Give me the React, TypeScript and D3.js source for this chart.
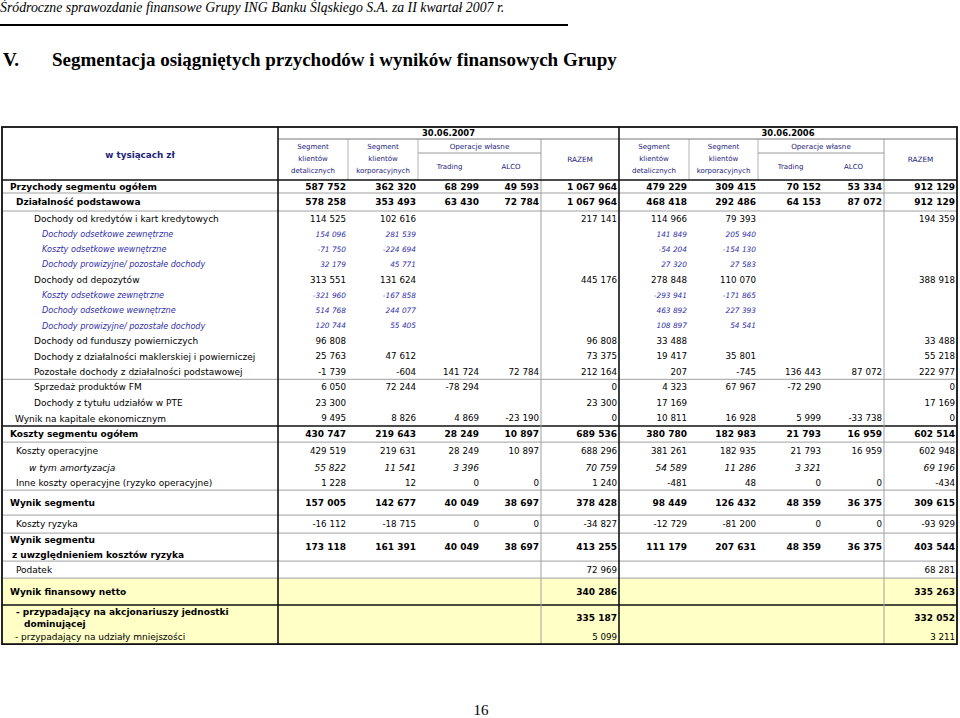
import React from "react";
import * as d3 from "d3";

// page texts
const pageTitle =
  "Śródroczne sprawozdanie finansowe Grupy ING Banku Śląskiego S.A. za II kwartał 2007 r.";
const sectionNo = "V.";
const sectionTitle = "Segmentacja osiągniętych przychodów i wyników finansowych Grupy";
const pageNumber = "16";

// header texts
const unitLabel = "w tysiącach zł";
const periods = ["30.06.2007", "30.06.2006"];
const segmentHeads = [
  ["Segment", "klientów", "detalicznych"],
  ["Segment", "klientów", "korporacyjnych"],
];
const ownOpsHead = "Operacje własne";
const ownOpsCols = ["Trading", "ALCO"];
const totalHead = "RAZEM";

// row labels (\n = second line)
const rowLabels = [
  "Przychody segmentu ogółem",
  "Działalność podstawowa",
  "Dochody od kredytów i kart kredytowych",
  "Dochody odsetkowe zewnętrzne",
  "Koszty odsetkowe wewnętrzne",
  "Dochody prowizyjne/ pozostałe dochody",
  "Dochody od depozytów",
  "Koszty odsetkowe zewnętrzne",
  "Dochody odsetkowe wewnętrzne",
  "Dochody prowizyjne/ pozostałe dochody",
  "Dochody od funduszy powierniczych",
  "Dochody z działalności maklerskiej i powierniczej",
  "Pozostałe dochody z działalności podstawowej",
  "Sprzedaż produktów FM",
  "Dochody z tytułu udziałów w PTE",
  "Wynik na kapitale ekonomicznym",
  "Koszty segmentu ogółem",
  "Koszty operacyjne",
  "w tym amortyzacja",
  "Inne koszty operacyjne (ryzyko operacyjne)",
  "Wynik segmentu",
  "Koszty ryzyka",
  "Wynik segmentu\nz uwzględnieniem kosztów ryzyka",
  "Podatek",
  "Wynik finansowy netto",
  "- przypadający na akcjonariuszy jednostki\ndominującej",
  "- przypadający na udziały mniejszości",
];

// detal, korp, trading, alco, razem
const values2007: (number | null)[][] = [
  [587752, 362320, 68299, 49593, 1067964],
  [578258, 353493, 63430, 72784, 1067964],
  [114525, 102616, null, null, 217141],
  [154096, 281539, null, null, null],
  [-71750, -224694, null, null, null],
  [32179, 45771, null, null, null],
  [313551, 131624, null, null, 445176],
  [-321960, -167858, null, null, null],
  [514768, 244077, null, null, null],
  [120744, 55405, null, null, null],
  [96808, null, null, null, 96808],
  [25763, 47612, null, null, 73375],
  [-1739, -604, 141724, 72784, 212164],
  [6050, 72244, -78294, null, 0],
  [23300, null, null, null, 23300],
  [9495, 8826, 4869, -23190, 0],
  [430747, 219643, 28249, 10897, 689536],
  [429519, 219631, 28249, 10897, 688296],
  [55822, 11541, 3396, null, 70759],
  [1228, 12, 0, 0, 1240],
  [157005, 142677, 40049, 38697, 378428],
  [-16112, -18715, 0, 0, -34827],
  [173118, 161391, 40049, 38697, 413255],
  [null, null, null, null, 72969],
  [null, null, null, null, 340286],
  [null, null, null, null, 335187],
  [null, null, null, null, 5099],
];

const values2006: (number | null)[][] = [
  [479229, 309415, 70152, 53334, 912129],
  [468418, 292486, 64153, 87072, 912129],
  [114966, 79393, null, null, 194359],
  [141849, 205940, null, null, null],
  [-54204, -154130, null, null, null],
  [27320, 27583, null, null, null],
  [278848, 110070, null, null, 388918],
  [-293941, -171865, null, null, null],
  [463892, 227393, null, null, null],
  [108897, 54541, null, null, null],
  [33488, null, null, null, 33488],
  [19417, 35801, null, null, 55218],
  [207, -745, 136443, 87072, 222977],
  [4323, 67967, -72290, null, 0],
  [17169, null, null, null, 17169],
  [10811, 16928, 5999, -33738, 0],
  [380780, 182983, 21793, 16959, 602514],
  [381261, 182935, 21793, 16959, 602948],
  [54589, 11286, 3321, null, 69196],
  [-481, 48, 0, 0, -434],
  [98449, 126432, 48359, 36375, 309615],
  [-12729, -81200, 0, 0, -93929],
  [111179, 207631, 48359, 36375, 403544],
  [null, null, null, null, 68281],
  [null, null, null, null, 335263],
  [null, null, null, null, 332052],
  [null, null, null, null, 3211],
];

// ---- layout / styles ----
type Kind = "bold" | "plain" | "sub" | "italic";
const rowKinds: Kind[] = [
  "bold", "bold", "plain", "sub", "sub", "sub", "plain", "sub", "sub", "sub",
  "plain", "plain", "plain", "plain", "plain", "plain", "bold", "plain", "italic", "plain",
  "bold", "plain", "bold", "plain", "bold", "bold", "plain",
];
const rowIndent: number[][] = [
  [8], [14], [32], [40], [40], [40], [32], [40], [40], [40],
  [32], [32], [32], [32], [32], [13], [8], [14], [27], [14],
  [8], [14], [8, 10], [14], [8], [14, 22], [13],
];
const rowHeights = [
  13, 18,
  15.3, 15.3, 15.3, 15.3, 15.3, 15.3, 15.3, 15.3, 15.3, 15.3, 15.3,
  15.6, 15.6, 15.6,
  16, 18, 15, 15,
  25, 18, 28, 17, 27, 25, 14,
];
// border drawn below each row: 0 none, 1 grey, 2 black
const rowRule = [1, 1, 0, 0, 0, 0, 0, 0, 0, 0, 0, 0, 1, 0, 0, 2, 1, 0, 0, 1, 1, 1, 1, 1, 2, 0, 0];
const yellowFrom = 24;

const colWidths = [276, 70, 70, 63, 60, 78, 70, 69, 65, 61, 73];
const tableLeft = 2;
const tableTop = 127;
const headHeights = [12, 14, 27];

const FONT = "'DejaVu Sans', Verdana, sans-serif";
const SERIF = "'Liberation Serif', 'Times New Roman', serif";
const NAVY = "#23237a";
const BLUE = "#2f2fa8";
const GREY = "#a0a0a0";
const YELLOW = "#ffffc6";

const fmt = d3
  .formatLocale({ decimal: ",", thousands: " ", grouping: [3], currency: ["", ""], minus: "-" })
  .format(",d");

export default function App() {
  const W = 960;
  const H = 718;

  const colEdges = [tableLeft, ...Array.from(d3.cumsum(colWidths), (d) => tableLeft + d)];
  const right = colEdges[colEdges.length - 1];
  const headEdges = [tableTop, ...Array.from(d3.cumsum(headHeights), (d) => tableTop + d)];
  const bodyTop = headEdges[headEdges.length - 1];
  const rowEdges = [bodyTop, ...Array.from(d3.cumsum(rowHeights), (d) => bodyTop + d)];
  const bottom = rowEdges[rowEdges.length - 1];

  const colRight = d3.scaleOrdinal<number, number>().domain(d3.range(11)).range(colEdges.slice(1));
  const colLeft = d3.scaleOrdinal<number, number>().domain(d3.range(11)).range(colEdges.slice(0, 11));
  const rowTop = d3.scaleOrdinal<number, number>().domain(d3.range(rowLabels.length)).range(rowEdges.slice(0, -1));
  const rowBottom = d3.scaleOrdinal<number, number>().domain(d3.range(rowLabels.length)).range(rowEdges.slice(1));

  const styleFor = (k: Kind) => {
    if (k === "bold") return { size: 9, numSize: 9, weight: 700, italic: false, fill: "#000" };
    if (k === "sub") return { size: 8.1, numSize: 7.4, weight: 400, italic: true, fill: BLUE };
    if (k === "italic") return { size: 9, numSize: 9, weight: 400, italic: true, fill: "#000" };
    return { size: 9, numSize: 8.7, weight: 400, italic: false, fill: "#000" };
  };

  const hMid = (i: number) => (headEdges[i] + headEdges[i + 1]) / 2;

  const header = periods.map((p, pi) => {
    const c0 = 1 + pi * 5;
    const blockMid = (colLeft(c0) + colRight(c0 + 4)) / 2;
    const opsMid = (colLeft(c0 + 2) + colRight(c0 + 3)) / 2;
    return (
      <g key={p}>
        <text x={blockMid} y={hMid(0) + 3} textAnchor="middle" fontWeight={700} fontSize={8.4} fill="#000">
          {p}
        </text>
        {segmentHeads.map((lines, si) => {
          const cx = (colLeft(c0 + si) + colRight(c0 + si)) / 2;
          return lines.map((t, li) => (
            <text key={si + "-" + li} x={cx} y={headEdges[1] + 9.5 + li * 12} textAnchor="middle" fontSize={7} fill={NAVY}>
              {t}
            </text>
          ));
        })}
        <text x={opsMid} y={hMid(1) + 2.5} textAnchor="middle" fontSize={7.2} fill={NAVY}>
          {ownOpsHead}
        </text>
        {ownOpsCols.map((t, oi) => (
          <text key={t} x={(colLeft(c0 + 2 + oi) + colRight(c0 + 2 + oi)) / 2} y={hMid(2) + 2.5} textAnchor="middle" fontSize={7} fill={NAVY}>
            {t}
          </text>
        ))}
        <text x={(colLeft(c0 + 4) + colRight(c0 + 4)) / 2} y={(headEdges[1] + headEdges[3]) / 2 + 2.5} textAnchor="middle" fontSize={7.3} fill={NAVY}>
          {totalHead}
        </text>
        {/* header grid */}
        {[c0 + 1, c0 + 2, c0 + 4].map((c) => (
          <line key={c} x1={colLeft(c)} x2={colLeft(c)} y1={headEdges[1]} y2={bodyTop} stroke={c === c0 + 4 ? GREY : "#b5b5b5"} />
        ))}
        <line x1={colLeft(c0 + 2)} x2={colRight(c0 + 3)} y1={headEdges[2]} y2={headEdges[2]} stroke="#9a9a9a" />
      </g>
    );
  });

  const body = rowLabels.map((label, ri) => {
    const st = styleFor(rowKinds[ri]);
    const top = rowTop(ri);
    const bot = rowBottom(ri);
    const mid = (top + bot) / 2;
    const lines = label.split("\n");
    const vals = [...values2007[ri], ...values2006[ri]];
    const lineGap = lines.length > 1 ? (ri === 22 ? 15 : 12) : 0;
    return (
      <g key={ri} fontFamily={FONT} fill={st.fill} fontWeight={st.weight} fontStyle={st.italic ? "italic" : "normal"}>
        {lines.map((t, li) => (
          <text
            key={li}
            x={tableLeft + rowIndent[ri][li]}
            y={mid + st.size * 0.36 + (li - (lines.length - 1) / 2) * lineGap}
            fontSize={st.size}
            style={{ whiteSpace: "pre" }}
          >
            {t}
          </text>
        ))}
        {vals.map((v, ci) =>
          v === null ? null : (
            <text key={"v" + ci} x={colRight(ci + 1) - 2} y={mid + st.numSize * 0.36} textAnchor="end" fontSize={st.numSize}>
              {fmt(v)}
            </text>
          )
        )}
      </g>
    );
  });

  const rules = rowRule.map((r, ri) =>
    r === 0 || ri === rowRule.length - 1 ? null : (
      <line
        key={ri}
        x1={tableLeft}
        x2={right}
        y1={rowBottom(ri)}
        y2={rowBottom(ri)}
        stroke={r === 2 ? "#111" : GREY}
        strokeWidth={r === 2 ? 1.5 : 1}
      />
    )
  );

  return (
    <svg width={W} height={H} style={{ position: "absolute", left: 0, top: 0, background: "#fff" }}>
      {/* page heading */}
      <text x={0} y={12} fontFamily={SERIF} fontStyle="italic" fontSize={13.8} fill="#000">
        {pageTitle}
      </text>
      <line x1={0} x2={568} y1={25} y2={25} stroke="#000" strokeWidth={2} />
      <text x={3} y={66} fontFamily={SERIF} fontWeight={700} fontSize={19} fill="#000">
        {sectionNo}
      </text>
      <text x={52} y={66} fontFamily={SERIF} fontWeight={700} fontSize={19} fill="#000">
        {sectionTitle}
      </text>

      {/* table background */}
      <rect x={tableLeft} y={rowTop(yellowFrom)} width={right - tableLeft} height={bottom - rowTop(yellowFrom)} fill={YELLOW} />

      <g fontFamily={FONT}>
        <text x={(tableLeft + colRight(0)) / 2} y={(tableTop + bodyTop) / 2 + 4} textAnchor="middle" fontWeight={700} fontSize={8.8} fill={NAVY}>
          {unitLabel}
        </text>
        {header}
        <line x1={colLeft(1)} x2={right} y1={headEdges[1]} y2={headEdges[1]} stroke="#777" />
      </g>

      {body}
      {rules}

      {/* vertical rules in body */}
      <line x1={colLeft(5)} x2={colLeft(5)} y1={bodyTop} y2={bottom} stroke={GREY} />
      <line x1={colLeft(10)} x2={colLeft(10)} y1={bodyTop} y2={bottom} stroke={GREY} />
      <line x1={colLeft(1)} x2={colLeft(1)} y1={tableTop} y2={bottom} stroke="#111" strokeWidth={1.6} />
      <line x1={colLeft(6)} x2={colLeft(6)} y1={tableTop} y2={bottom} stroke="#111" strokeWidth={1.6} />

      {/* outer frame and header bottom */}
      <line x1={tableLeft} x2={right} y1={bodyTop} y2={bodyTop} stroke="#111" strokeWidth={1.6} />
      <rect x={tableLeft} y={tableTop} width={right - tableLeft} height={bottom - tableTop} fill="none" stroke="#111" strokeWidth={1.8} />

      <text x={481} y={715} textAnchor="middle" fontFamily={SERIF} fontSize={15} fill="#000">
        {pageNumber}
      </text>
    </svg>
  );
}
